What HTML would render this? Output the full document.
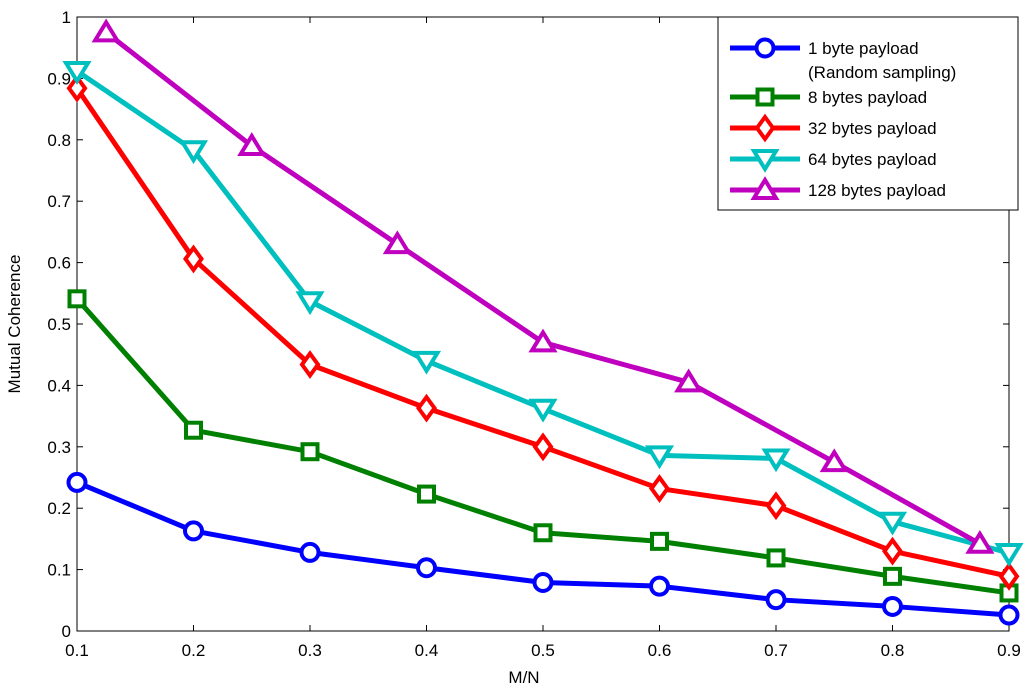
<!DOCTYPE html>
<html><head><meta charset="utf-8"><style>
body{margin:0;background:#fff;}
svg{display:block;font-family:"Liberation Sans",Arial,sans-serif;}
</style></head><body>
<svg id="chart" width="1024" height="692">
<rect x="0" y="0" width="1024" height="692" fill="#fff"/>
<g id="axes"></g><g id="series"></g><g id="legend"></g>
<text x="524" y="683" font-size="17" text-anchor="middle">M/N</text>
<text transform="translate(20,324) rotate(-90)" font-size="17" text-anchor="middle">Mutual Coherence</text>
</svg>
<script>
const xTicks=[0.1,0.2,0.3,0.4,0.5,0.6,0.7,0.8,0.9];
const xTickLabels=["0.1","0.2","0.3","0.4","0.5","0.6","0.7","0.8","0.9"];
const yTicks=[0,0.1,0.2,0.3,0.4,0.5,0.6,0.7,0.8,0.9,1];
const yTickLabels=["0","0.1","0.2","0.3","0.4","0.5","0.6","0.7","0.8","0.9","1"];
const xMain=[0.1,0.2,0.3,0.4,0.5,0.6,0.7,0.8,0.9];
const xMagenta=[0.125,0.25,0.375,0.5,0.625,0.75,0.875];
const blueVals=[0.242,0.163,0.128,0.103,0.079,0.073,0.051,0.040,0.026];
const greenVals=[0.541,0.327,0.292,0.223,0.160,0.146,0.119,0.089,0.062];
const redVals=[0.884,0.606,0.434,0.363,0.300,0.232,0.204,0.130,0.089];
const cyanVals=[0.912,0.783,0.537,0.440,0.362,0.286,0.281,0.178,0.127];
const magentaVals=[0.975,0.790,0.630,0.470,0.405,0.275,0.142];
const legendLabels=["1 byte payload","8 bytes payload","32 bytes payload","64 bytes payload","128 bytes payload"];

const L=77,R=1009,T=17,B=631;
const xs=v=>L+(v-0.1)/0.8*(R-L);
const ys=v=>B-v*(B-T);
const NS="http://www.w3.org/2000/svg";
function mk(tag,attrs,parent){const e=document.createElementNS(NS,tag);for(const k in attrs)e.setAttribute(k,attrs[k]);parent.appendChild(e);return e;}
const axes=document.getElementById('axes');
const box=mk('rect',{x:L,y:T,width:R-L,height:B-T,fill:'none',stroke:'#000','stroke-width':1},axes);


xTicks.forEach((v,i)=>{
  mk('line',{x1:xs(v),x2:xs(v),y1:B,y2:B-6,stroke:'#000'},axes);
  mk('line',{x1:xs(v),x2:xs(v),y1:T,y2:T+6,stroke:'#000'},axes);
  const t=mk('text',{x:xs(v),y:B+25,'font-size':17,'text-anchor':'middle'},axes);
  t.textContent=xTickLabels[i];
  
  
});
yTicks.forEach((v,i)=>{
  mk('line',{x1:L,x2:L+6,y1:ys(v),y2:ys(v),stroke:'#000'},axes);
  mk('line',{x1:R,x2:R-6,y1:ys(v),y2:ys(v),stroke:'#000'},axes);
  const t=mk('text',{x:L-6,y:ys(v)+6,'font-size':17,'text-anchor':'end'},axes);
  t.textContent=yTickLabels[i];
  
  
});
function marker(g,type,x,y,color){
  const s=10;let e;
  if(type==='circle')e=mk('circle',{cx:x,cy:y,r:8.5},g);
  else if(type==='square')e=mk('rect',{x:x-7.5,y:y-7.5,width:15,height:15},g);
  else if(type==='diamond')e=mk('polygon',{points:`${x},${y-11} ${x+8},${y} ${x},${y+11} ${x-8},${y}`},g);
  else if(type==='down')e=mk('polygon',{points:`${x-s-1},${y-s+2} ${x+s+1},${y-s+2} ${x},${y+s}`},g);
  else e=mk('polygon',{points:`${x-s-1},${y+s-2} ${x+s+1},${y+s-2} ${x},${y-s}`},g);
  e.setAttribute('fill','#fff');e.setAttribute('stroke',color);e.setAttribute('stroke-width',4);
  return e;
}
const seriesG=document.getElementById('series');
const series=[
 {xv:xMain,yv:blueVals,c:'#0000ff',m:'circle',n:'series-1-byte'},
 {xv:xMain,yv:greenVals,c:'#008000',m:'square',n:'series-8-bytes'},
 {xv:xMain,yv:redVals,c:'#ff0000',m:'diamond',n:'series-32-bytes'},
 {xv:xMain,yv:cyanVals,c:'#00bfbf',m:'down',n:'series-64-bytes'},
 {xv:xMagenta,yv:magentaVals,c:'#bf00bf',m:'up',n:'series-128-bytes'}];
series.forEach(s=>{
  const g=mk('g',{},seriesG);
  
  
  const pts=s.yv.map((v,i)=>xs(s.xv[i])+','+ys(v)).join(' ');
  mk('polyline',{points:pts,fill:'none',stroke:s.c,'stroke-width':5,'stroke-linejoin':'round'},g);
  s.yv.forEach((v,i)=>{const p=marker(g,s.m,xs(s.xv[i]),ys(v),s.c);
    
    });
});
const lg=document.getElementById('legend');


mk('rect',{x:718,y:17,width:300,height:193,fill:'#fff',stroke:'#000'},lg);
const rowsY=[48,97,128,159,190];
series.forEach((s,i)=>{
  const y=rowsY[i];
  const g=mk('g',{},lg);
  
  
  mk('line',{x1:730,x2:800,y1:y,y2:y,stroke:s.c,'stroke-width':5},g);
  marker(g,s.m,765,y,s.c);
  const t=mk('text',{x:808,y:y+6,'font-size':17},g);t.textContent=legendLabels[i];
  if(i===0){const t2=mk('text',{x:808,y:y+30,'font-size':17},g);t2.textContent='(Random sampling)';}
});
</script>
</body></html>
